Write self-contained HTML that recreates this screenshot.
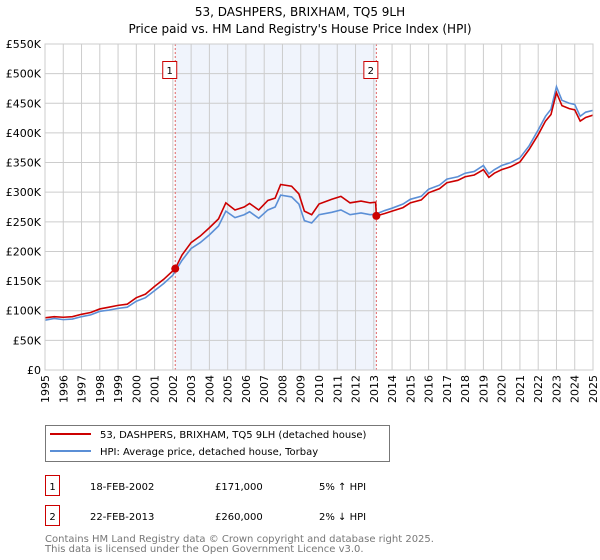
<!DOCTYPE html>
<html><head><meta charset="utf-8"><style>
body{margin:0;background:#fff;font-family:"DejaVu Sans","Liberation Sans",sans-serif}
svg{display:block}
</style></head><body>
<svg width="600" height="560" viewBox="0 0 600 560" font-family="DejaVu Sans, Liberation Sans, sans-serif">
<text x="300" y="16" text-anchor="middle" font-size="12">53, DASHPERS, BRIXHAM, TQ5 9LH</text>
<text x="300" y="33" text-anchor="middle" font-size="12">Price paid vs. HM Land Registry's House Price Index (HPI)</text>
<g id="plot"></g>
<g>
<rect x="45.5" y="425.5" width="344" height="36" fill="#fff" stroke="#777"/>
<line x1="50" y1="434" x2="91" y2="434" stroke="#cc0000" stroke-width="2"/>
<text x="100" y="438" font-size="10">53, DASHPERS, BRIXHAM, TQ5 9LH (detached house)</text>
<line x1="50" y1="451" x2="91" y2="451" stroke="#5b8fd6" stroke-width="2"/>
<text x="100" y="455" font-size="10">HPI: Average price, detached house, Torbay</text>
</g>
<g font-size="10">
<rect x="45.5" y="475.5" width="14" height="20" fill="#fff" stroke="#cc0000"/>
<text x="52.5" y="490" text-anchor="middle">1</text>
<text x="90" y="490">18-FEB-2002</text><text x="215" y="490">£171,000</text><text x="319" y="490">5% ↑ HPI</text>
<rect x="45.5" y="505.5" width="14" height="20" fill="#fff" stroke="#cc0000"/>
<text x="52.5" y="520" text-anchor="middle">2</text>
<text x="90" y="520">22-FEB-2013</text><text x="215" y="520">£260,000</text><text x="319" y="520">2% ↓ HPI</text>
</g>
<text x="45" y="542" font-size="10" fill="#777">Contains HM Land Registry data © Crown copyright and database right 2025.</text>
<text x="45" y="552" font-size="10" fill="#777">This data is licensed under the Open Government Licence v3.0.</text>
</svg>
<script>
const yTicks=[0,50,100,150,200,250,300,350,400,450,500,550];
const years=[1995,1996,1997,1998,1999,2000,2001,2002,2003,2004,2005,2006,2007,2008,2009,2010,2011,2012,2013,2014,2015,2016,2017,2018,2019,2020,2021,2022,2023,2024,2025];
const hpiT=[1995,1995.5,1996,1996.5,1997,1997.5,1998,1998.5,1999,1999.5,2000,2000.5,2001,2001.5,2002,2002.5,2003,2003.5,2004,2004.5,2004.9,2005.4,2005.9,2006.2,2006.7,2007.2,2007.6,2007.9,2008.5,2008.9,2009.2,2009.6,2010,2010.7,2011.2,2011.7,2012.3,2012.8,2013.1,2013.6,2014,2014.6,2015,2015.6,2016,2016.6,2017,2017.6,2018,2018.5,2019,2019.3,2019.6,2020,2020.5,2021,2021.5,2022,2022.4,2022.7,2023,2023.3,2023.7,2024,2024.3,2024.6,2025];
const hpiV=[84,87,85,86,90,93,99,101,104,106,116,122,134,146,160,185,205,215,228,243,268,257,262,267,256,270,275,295,292,280,252,248,262,266,270,262,265,262,263,269,273,280,288,293,305,312,322,326,332,335,345,331,338,345,350,358,378,405,428,440,478,455,450,448,428,435,438];
const redT=[1995,1995.5,1996,1996.5,1997,1997.5,1998,1998.5,1999,1999.5,2000,2000.5,2001,2001.5,2002.13,2002.5,2003,2003.5,2004,2004.5,2004.9,2005.4,2005.9,2006.2,2006.7,2007.2,2007.6,2007.9,2008.5,2008.9,2009.2,2009.6,2010,2010.7,2011.2,2011.7,2012.3,2012.8,2013.1,2013.14,2013.6,2014,2014.6,2015,2015.6,2016,2016.6,2017,2017.6,2018,2018.5,2019,2019.3,2019.6,2020,2020.5,2021,2021.5,2022,2022.4,2022.7,2023,2023.3,2023.7,2024,2024.3,2024.6,2025];
const redV=[88,90,89,90,94,97,103,106,109,111,122,128,141,153,171,194,215,226,240,255,282,270,275,281,270,286,290,313,310,297,268,262,280,288,293,282,285,282,283,260,264,268,274,282,287,299,306,316,320,326,329,338,325,332,338,343,351,372,397,420,431,468,446,441,439,420,426,430];
const sales=[{t:2002.13,v:171,l:"1"},{t:2013.14,v:260,l:"2"}];
const X0=45,X1=593,Y0=370,Y1=44;
const x=t=>X0+(t-1995)/30*(X1-X0);
const y=v=>Y0-v/550*(Y0-Y1);
const NS="http://www.w3.org/2000/svg";
const g=document.getElementById('plot');
function mk(tag,attrs,parent){const e=document.createElementNS(NS,tag);for(const k in attrs)e.setAttribute(k,attrs[k]);(parent||g).appendChild(e);return e;}
const band=mk('rect',{x:x(sales[0].t),y:Y1,width:x(sales[1].t)-x(sales[0].t),height:Y0-Y1,fill:'#f0f4fc'});


yTicks.forEach(v=>{
 const l=mk('line',{x1:X0,x2:X1,y1:y(v),y2:y(v),stroke:'#ccc'});
 
 
 const t=mk('text',{x:X0-4,y:y(v)+4,'text-anchor':'end','font-size':11});
 t.textContent=v===0?'£0':'£'+v+'K';
 
 
});
years.forEach(yr=>{
 const l=mk('line',{x1:x(yr),x2:x(yr),y1:Y1,y2:Y0,stroke:'#ccc'});
 
 
 const t=mk('text',{transform:`translate(${x(yr)+4},${Y0+5}) rotate(-90)`,'text-anchor':'end','font-size':11});
 t.textContent=yr;
 
 
});
sales.forEach(s=>{
 const l=mk('line',{x1:x(s.t),x2:x(s.t),y1:Y1,y2:Y0,stroke:'#e06666','stroke-dasharray':'2,2'});
 
 
 const r=mk('rect',{x:x(s.t)-12.5,y:61.5,width:14,height:17,fill:'#fff',stroke:'#cc0000'});
 
 
 const t=mk('text',{x:x(s.t)-5.5,y:74,'text-anchor':'middle','font-size':10});
 t.textContent=s.l;
 
 
});
const hp=mk('polyline',{points:hpiT.map((t,i)=>x(t)+','+y(hpiV[i])).join(' '),fill:'none',stroke:'#5b8fd6','stroke-width':1.6});


const rp=mk('polyline',{points:redT.map((t,i)=>x(t)+','+y(redV[i])).join(' '),fill:'none',stroke:'#cc0000','stroke-width':1.6});


sales.forEach(s=>{
 const c=mk('circle',{cx:x(s.t),cy:y(s.v),r:4,fill:'#cc0000'});
 
 
});
const fr=mk('rect',{x:X0,y:Y1,width:X1-X0,height:Y0-Y1,fill:'none',stroke:'#ccc'});


</script>
</body></html>
